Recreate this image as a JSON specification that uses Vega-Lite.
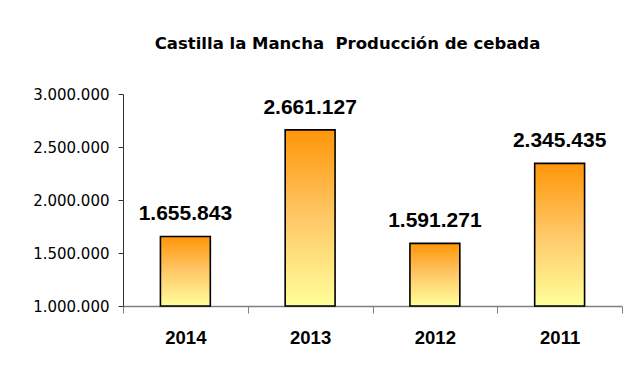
{
  "$schema": "https://vega.github.io/schema/vega-lite/v6.json",
  "width": 499,
  "height": 212,
  "autosize": {"type": "none"},
  "padding": {"left": 123, "top": 94, "right": 12, "bottom": 60},
  "background": "white",
  "config": {
    "view": {"stroke": null},
    "font": "Liberation Sans",
    "locale": {"number": {"decimal": ",", "thousands": ".", "grouping": [3], "currency": ["", " €"]}}
  },
  "title": {
    "text": "Castilla la Mancha\u00a0\u00a0Producción de cebada",
    "font": "DejaVu Sans",
    "fontSize": 16.5,
    "fontWeight": "bold",
    "color": "black",
    "anchor": "middle",
    "dx": -25,
    "offset": 35
  },
  "data": {
    "values": [
      {"year": "2014", "value": 1655843},
      {"year": "2013", "value": 2661127},
      {"year": "2012", "value": 1591271},
      {"year": "2011", "value": 2345435}
    ]
  },
  "encoding": {
    "x": {
      "field": "year",
      "type": "nominal",
      "sort": null,
      "scale": {"paddingInner": 0, "paddingOuter": 0},
      "axis": {
        "title": null,
        "labelAngle": 0,
        "labelFont": "Liberation Sans",
        "labelFontSize": 18.5,
        "labelFontWeight": "bold",
        "labelColor": "black",
        "labelPadding": 15,
        "tickBand": "extent",
        "tickSize": 7,
        "tickColor": "#808080",
        "domainColor": "#808080",
        "domainWidth": 1.5
      }
    },
    "y": {
      "field": "value",
      "type": "quantitative",
      "scale": {"domain": [1000000, 3000000], "zero": false, "nice": false},
      "axis": {
        "title": null,
        "values": [1000000, 1500000, 2000000, 2500000, 3000000],
        "format": ",d",
        "grid": false,
        "labelFont": "DejaVu Sans",
        "labelFontSize": 15,
        "labelColor": "black",
        "labelPadding": 9,
        "tickSize": 5,
        "tickColor": "#333333",
        "domainColor": "#333333"
      }
    }
  },
  "layer": [
    {
      "mark": {
        "type": "bar",
        "width": {"band": 0.4},
        "stroke": "black",
        "strokeWidth": 1.6,
        "color": {
          "gradient": "linear",
          "x1": 0, "y1": 0, "x2": 0, "y2": 1,
          "stops": [
            {"offset": 0, "color": "#ff9608"},
            {"offset": 0.5, "color": "#ffc868"},
            {"offset": 1, "color": "#ffff99"}
          ]
        }
      },
      "encoding": {
        "y2": {"datum": 1000000}
      }
    },
    {
      "mark": {
        "type": "text",
        "baseline": "bottom",
        "dy": -12,
        "font": "Liberation Sans",
        "fontSize": 21,
        "fontWeight": "bold",
        "color": "black"
      },
      "encoding": {
        "text": {"field": "value", "type": "quantitative", "format": ",d"}
      }
    }
  ]
}
